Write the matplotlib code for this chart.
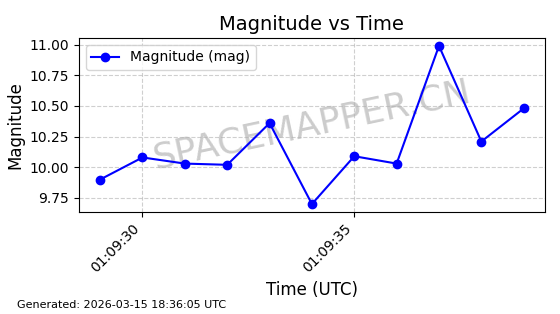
import matplotlib
matplotlib.use("Agg")
import matplotlib.pyplot as plt
import matplotlib.dates as mdates
import pandas as pd

times = ["2026-03-15 01:09:29", "2026-03-15 01:09:30", "2026-03-15 01:09:31",
         "2026-03-15 01:09:32", "2026-03-15 01:09:33", "2026-03-15 01:09:34",
         "2026-03-15 01:09:35", "2026-03-15 01:09:36", "2026-03-15 01:09:37",
         "2026-03-15 01:09:38", "2026-03-15 01:09:39"]
magnitudes = [9.90, 10.08, 10.03, 10.02, 10.36, 9.70, 10.09, 10.03, 10.99, 10.21, 10.48]

t = pd.to_datetime(times)

fig, ax = plt.subplots(figsize=(5.6, 3.14), dpi=100)
fig.subplots_adjust(left=0.141, right=0.973, top=0.879, bottom=0.325)

ax.plot(t, magnitudes, marker="o", color="blue", linestyle="-", label="Magnitude (mag)", zorder=3)
ax.set_title("Magnitude vs Time", fontsize=14)
ax.set_xlabel("Time (UTC)", fontsize=12)
ax.set_ylabel("Magnitude", fontsize=12)
ax.grid(True, linestyle="--", alpha=0.6)
ax.legend(loc="upper left")
ax.xaxis.set_major_locator(mdates.SecondLocator(bysecond=range(0, 60, 5)))
ax.xaxis.set_major_formatter(mdates.DateFormatter("%H:%M:%S"))
plt.setp(ax.get_xticklabels(), rotation=45, ha="right")

ax.text(0.5, 0.5, "SPACEMAPPER.CN", transform=ax.transAxes, fontsize=26,
        color="gray", alpha=0.4, ha="center", va="center", rotation=12, zorder=1)

fig.text(0.03, 0.02, "Generated: 2026-03-15 18:36:05 UTC", fontsize=8)

fig.savefig("out.png", dpi=100)
